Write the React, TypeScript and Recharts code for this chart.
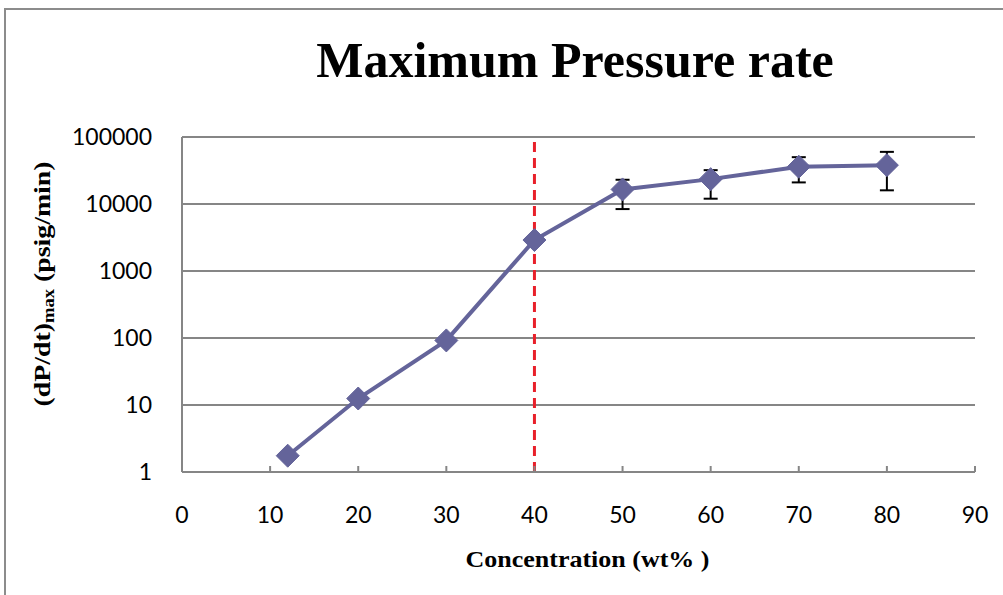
import { CartesianGrid, ErrorBar, Line, LineChart, ReferenceLine, XAxis, YAxis } from "recharts";

const concentration = [12, 20, 30, 40, 50, 60, 70, 80];
const pressureRate = [1.75, 12.5, 92, 2900, 16500, 23500, 36000, 38000];
// lower / upper ends of the error bars (null = no bar)
const errLower = [null, null, null, null, 8400, 12000, 21000, 16000];
const errUpper = [null, null, null, null, 23000, 32000, 50000, 60000];

const xTicks = [0, 10, 20, 30, 40, 50, 60, 70, 80, 90];
const yTicks = [1, 10, 100, 1000, 10000, 100000];

const data = concentration.map((c, i) => {
  const v = pressureRate[i];
  const lo = errLower[i];
  const hi = errUpper[i];
  return {
    conc: c,
    rate: v,
    err: lo == null || hi == null ? null : [v - lo, hi - v],
  };
});

const LINE = "#64649a";
const GRID = "#868686";
const serif = "'Liberation Serif', 'Times New Roman', serif";
const sans = "Lato, 'Noto Sans', sans-serif";

function Diamond(props: any) {
  const { cx, cy } = props;
  if (cx == null || cy == null) return null;
  const r = 11.5;
  return (
    <polygon
      points={`${cx},${cy - r} ${cx + r},${cy} ${cx},${cy + r} ${cx - r},${cy}`}
      fill={LINE}
      stroke={LINE}
      strokeWidth={1}
    />
  );
}

export default function App() {
  return (
    <div style={{ position: "absolute", left: 0, top: 0, width: 1003, height: 595, background: "#fff", overflow: "hidden" }}>
      <div
        style={{
          position: "absolute",
          left: 4,
          top: 8,
          width: 1020,
          height: 620,
          border: "2px solid #8c8c8c",
          boxSizing: "border-box",
        }}
      />
      <LineChart
        width={1003}
        height={595}
        data={data}
        margin={{ top: 137, right: 28, left: 0, bottom: 0 }}
        style={{ position: "absolute", left: 0, top: 0 }}
      >
        <CartesianGrid vertical={false} stroke={GRID} strokeWidth={2} />
        <XAxis
          dataKey="conc"
          type="number"
          domain={[0, 90]}
          ticks={xTicks}
          interval={0}
          height={123}
          axisLine={{ stroke: GRID, strokeWidth: 2 }}
          tickLine={{ stroke: GRID, strokeWidth: 2 }}
          tickSize={-6}
          tickMargin={41}
          tick={{ fill: "#000", fontSize: 23, fontFamily: sans }}
        />
        <YAxis
          type="number"
          scale="log"
          domain={[1, 100000]}
          ticks={yTicks}
          allowDataOverflow
          interval={0}
          width={182}
          axisLine={{ stroke: GRID, strokeWidth: 2 }}
          tickLine={false}
          tickMargin={24}
          tick={{ fill: "#000", fontSize: 23, fontFamily: sans }}
        />
        <ReferenceLine x={40} stroke="#e8202a" strokeWidth={3} strokeDasharray="10 6" />
        <Line
          dataKey="rate"
          stroke={LINE}
          strokeWidth={4}
          dot={<Diamond />}
          activeDot={false}
          isAnimationActive={false}
        >
          <ErrorBar dataKey="err" direction="y" width={7} stroke="#000" strokeWidth={2} isAnimationActive={false} />
        </Line>
      </LineChart>
      <div
        style={{
          position: "absolute",
          left: 0,
          width: 1150,
          top: 30,
          textAlign: "center",
          fontFamily: serif,
          fontWeight: "bold",
          fontSize: 50,
          lineHeight: "60px",
          color: "#000",
          whiteSpace: "nowrap",
        }}
      >
        Maximum Pressure rate
      </div>
      <div
        style={{
          position: "absolute",
          left: 0,
          width: 1175,
          top: 546,
          textAlign: "center",
          fontFamily: serif,
          fontWeight: "bold",
          fontSize: 23,
          lineHeight: "28px",
          color: "#000",
          whiteSpace: "nowrap",
          transform: "scaleX(1.13)",
          transformOrigin: "587.5px 0",
        }}
      >
        Concentration (wt% )
      </div>
      <div
        style={{
          position: "absolute",
          left: 42 - 200,
          top: 284 - 14,
          width: 400,
          height: 28,
          textAlign: "center",
          fontFamily: serif,
          fontWeight: "bold",
          fontSize: 24,
          lineHeight: "28px",
          color: "#000",
          whiteSpace: "nowrap",
          transform: "rotate(-90deg) scaleX(1.16)",
        }}
      >
        (dP/dt)<span style={{ fontSize: 16, verticalAlign: "-4px" }}>max</span> (psig/min)
      </div>
    </div>
  );
}
